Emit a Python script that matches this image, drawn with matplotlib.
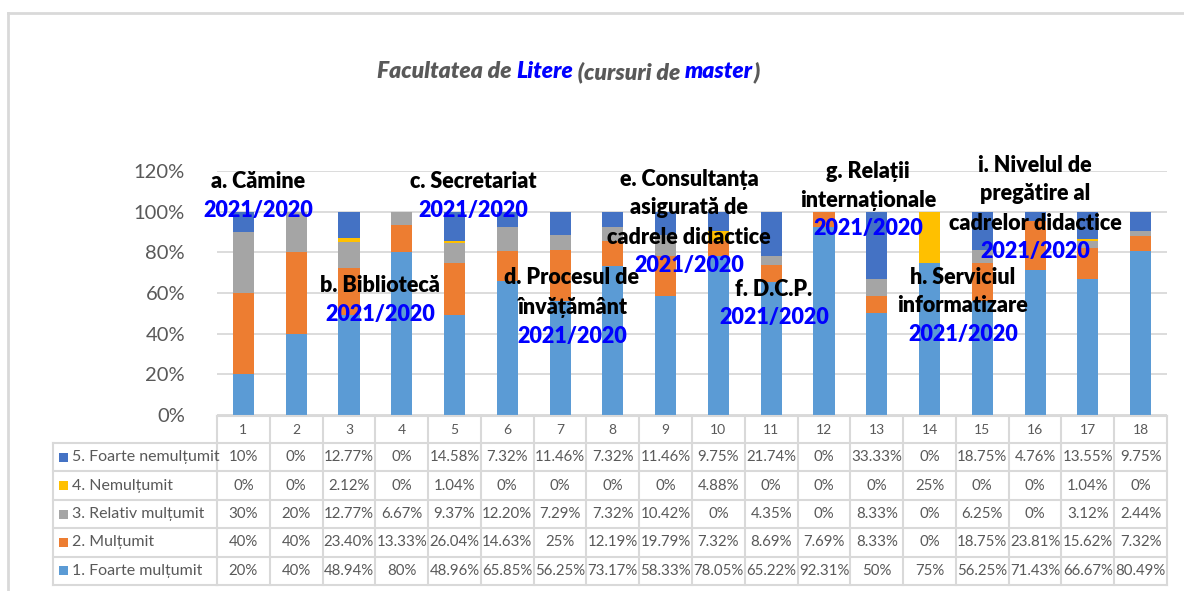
import matplotlib
matplotlib.use('Agg')
import matplotlib.pyplot as plt
from matplotlib.lines import Line2D
from matplotlib.patches import Rectangle
import matplotlib.transforms as mtransforms

plt.rcParams['font.family'] = ['Lato', 'DejaVu Sans']

# ---------------- data ----------------
categories = [str(i) for i in range(1, 19)]
series_names = ['1. Foarte mulțumit', '2. Mulțumit', '3. Relativ mulțumit',
                '4. Nemulțumit', '5. Foarte nemulțumit']
foarte_multumit = [20, 40, 48.94, 80, 48.96, 65.85, 56.25, 73.17, 58.33, 78.05,
                   65.22, 92.31, 50, 75, 56.25, 71.43, 66.67, 80.49]
multumit = [40, 40, 23.40, 13.33, 26.04, 14.63, 25, 12.19, 19.79, 7.32,
            8.69, 7.69, 8.33, 0, 18.75, 23.81, 15.62, 7.32]
relativ_multumit = [30, 20, 12.77, 6.67, 9.37, 12.20, 7.29, 7.32, 10.42, 0,
                    4.35, 0, 8.33, 0, 6.25, 0, 3.12, 2.44]
nemultumit = [0, 0, 2.12, 0, 1.04, 0, 0, 0, 0, 4.88,
              0, 0, 0, 25, 0, 0, 1.04, 0]
foarte_nemultumit = [10, 0, 12.77, 0, 14.58, 7.32, 11.46, 7.32, 11.46, 9.75,
                     21.74, 0, 33.33, 0, 18.75, 4.76, 13.55, 9.75]
series_values = [foarte_multumit, multumit, relativ_multumit, nemultumit, foarte_nemultumit]
series_colors = ['#5B9BD5', '#ED7D31', '#A5A5A5', '#FFC000', '#4472C4']
y_ticks = [0, 20, 40, 60, 80, 100, 120]
y_tick_labels = ['0%', '20%', '40%', '60%', '80%', '100%', '120%']
year_label = '2021/2020'
group_labels = [
    ['a. Cămine'],
    ['b. Bibliotecă'],
    ['c. Secretariat'],
    ['d. Procesul de', 'învățământ'],
    ['e. Consultanța', 'asigurată de', 'cadrele didactice'],
    ['f. D.C.P.'],
    ['g. Relații', 'internaționale'],
    ['h. Serviciul', 'informatizare'],
    ['i. Nivelul de', 'pregătire al', 'cadrelor didactice'],
]
title_parts = [('Facultatea de ', '#595959'), ('Litere', '#0000FF'),
               (' (cursuri de ', '#595959'), ('master', '#0000FF'), (')', '#595959')]

# ---------------- layout ----------------
W, H = 1184, 591
fig = plt.figure(figsize=(W / 100, H / 100), dpi=100)
fig.patch.set_facecolor('white')

def fx(px):
    return px / W

def fy(py):
    return 1 - py / H

ax_l, ax_r, ax_t, ax_b = 217, 1167, 171, 415
ax = fig.add_axes([fx(ax_l), fy(ax_b), (ax_r - ax_l) / W, (ax_b - ax_t) / H])
ax.set_xlim(-0.5, len(categories) - 0.5)
ax.set_ylim(0, 120)
for s in ax.spines.values():
    s.set_visible(False)
ax.set_xticks([])
ax.set_yticks(y_ticks)
ax.set_yticklabels(y_tick_labels)
ax.tick_params(axis='y', length=0, pad=23, labelsize=14.5, labelcolor='#595959')
ax.grid(axis='y', color='#D9D9D9', linewidth=1.3)
ax.set_axisbelow(True)

x = list(range(len(categories)))
bottom = [0.0] * len(categories)
for vals, col, name in zip(series_values, series_colors, series_names):
    ax.bar(x, vals, width=0.4, bottom=bottom, color=col, label=name, zorder=2)
    bottom = [b + v for b, v in zip(bottom, vals)]

# ---------------- data table ----------------
line_col = '#D9D9D9'
txt_col = '#595959'
btrans = mtransforms.blended_transform_factory(ax.transData, fig.transFigure)
hdr_top, hdr_bot = 416, 443
row_h = 28.4
n_rows = len(series_names)
tab_bot = hdr_bot + n_rows * row_h
lbl_left = 53
nc = len(categories)

fig.add_artist(Line2D([-0.5, nc - 0.5], [fy(hdr_top)] * 2, transform=btrans,
                      color=line_col, lw=1.5))
for r in range(n_rows + 1):
    yy = fy(hdr_bot + r * row_h)
    fig.add_artist(Line2D([fx(lbl_left), fx(ax_l)], [yy, yy], transform=fig.transFigure,
                          color=line_col, lw=1.5))
    fig.add_artist(Line2D([-0.5, nc - 0.5], [yy, yy], transform=btrans,
                          color=line_col, lw=1.5))
for c in range(nc + 1):
    fig.add_artist(Line2D([c - 0.5, c - 0.5], [fy(hdr_top), fy(tab_bot)], transform=btrans,
                          color=line_col, lw=1.5))
fig.add_artist(Line2D([fx(lbl_left)] * 2, [fy(hdr_bot), fy(tab_bot)], transform=fig.transFigure,
                      color=line_col, lw=1.5))

for i, cat in enumerate(categories):
    fig.text(i, fy((hdr_top + hdr_bot) / 2), cat, transform=btrans, ha='center', va='center',
             fontsize=10, color=txt_col)

def fmt(v):
    if abs(v - round(v)) < 1e-9:
        return '%d%%' % round(v)
    return '%.2f%%' % v

row_order = list(range(n_rows))[::-1]
for r, si in enumerate(row_order):
    yc = fy(hdr_bot + (r + 0.5) * row_h)
    fig.add_artist(Rectangle((fx(59), yc - 4.5 / H), 9 / W, 9 / H, transform=fig.transFigure,
                             facecolor=series_colors[si], edgecolor='none'))
    fig.text(fx(72), yc, series_names[si], ha='left', va='center', fontsize=11.5, color=txt_col)
    for i, v in enumerate(series_values[si]):
        fig.text(i, yc, fmt(v), transform=btrans, ha='center', va='center',
                 fontsize=10.8, color=txt_col)

# ---------------- overlay labels ----------------
label_pos = [(258, 181), (380, 285), (473, 181), (572, 278), (689, 179),
             (774, 289), (868, 171), (963, 277), (1035, 165)]
line_step = 29
for lines, (px, py) in zip(group_labels, label_pos):
    for k, ln in enumerate(lines):
        fig.text(fx(px), fy(py + k * line_step), ln, ha='center', va='center',
                 fontsize=15.5, fontweight='heavy', color='black', zorder=5)
    fig.text(fx(px), fy(py + len(lines) * line_step), year_label, ha='center', va='center',
             fontsize=15.5, fontweight='heavy', color='#0000FF', zorder=5)

# ---------------- title (multi-coloured) ----------------
renderer = fig.canvas.get_renderer()
tkw = dict(fontsize=16.5, fontweight='heavy', fontstyle='italic')

def ink_width(s):
    t = fig.text(0, 0, s, **tkw)
    w = t.get_window_extent(renderer).width
    t.remove()
    return w

def advance(s):
    # pen advance of s, measured between two marker glyphs
    return ink_width('|' + s + '|') - ink_width('||')

full = ''.join(p for p, _ in title_parts)
origin = 568 - advance(full) / 2
prefix = ''
for part, col in title_parts:
    off = advance(prefix) if prefix else 0
    fig.text(fx(origin + off), fy(72), part, color=col, ha='left', va='center', **tkw)
    prefix += part

# ---------------- outer frame ----------------
fig.add_artist(Line2D([fx(8), fx(8)], [fy(13), 0], transform=fig.transFigure, color=line_col, lw=2))
fig.add_artist(Line2D([fx(8), 1], [fy(13), fy(13)], transform=fig.transFigure, color=line_col, lw=2))

fig.savefig('out.png', dpi=100)
